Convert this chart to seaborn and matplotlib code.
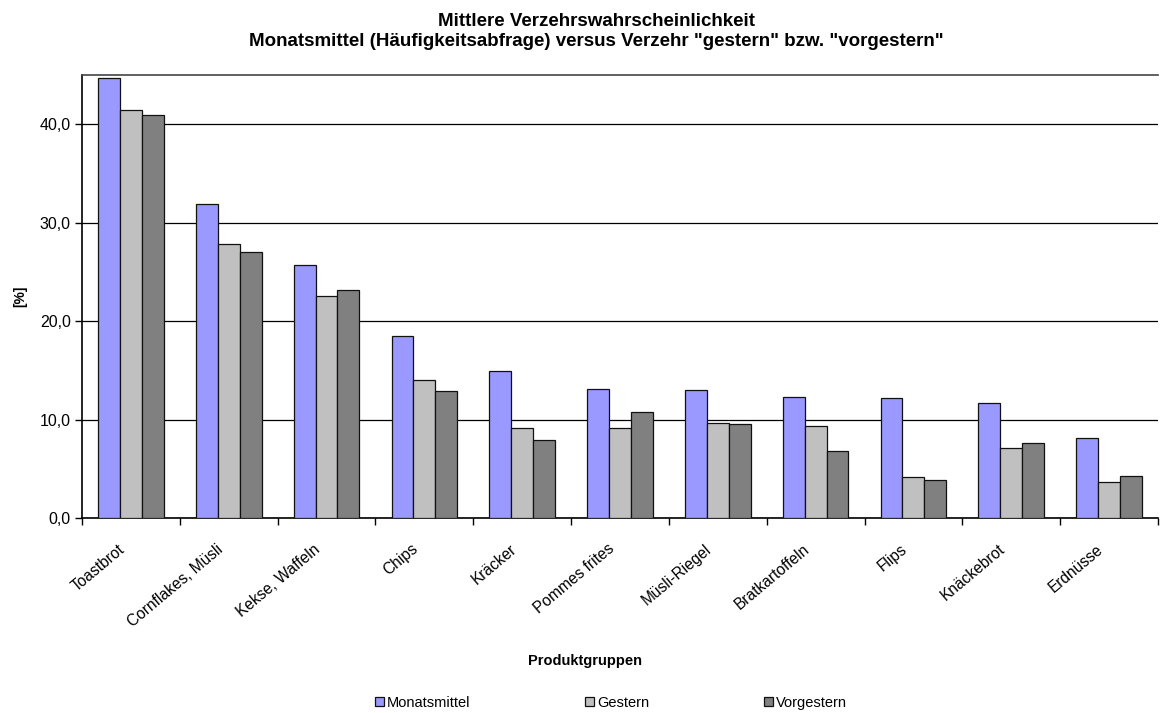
import pandas as pd
import matplotlib
matplotlib.use("Agg")
import matplotlib.pyplot as plt
import matplotlib.transforms as mtransforms
import seaborn as sns
from matplotlib.ticker import FuncFormatter

# Werte
produkte = ['Toastbrot', 'Cornflakes, Müsli', 'Kekse, Waffeln', 'Chips', 'Kräcker',
            'Pommes frites', 'Müsli-Riegel', 'Bratkartoffeln', 'Flips', 'Knäckebrot', 'Erdnüsse']
monatsmittel = [44.7, 31.9, 25.7, 18.5, 14.9, 13.1, 13.0, 12.3, 12.2, 11.7, 8.1]
gestern = [41.4, 27.8, 22.6, 14.0, 9.1, 9.1, 9.6, 9.3, 4.2, 7.1, 3.7]
vorgestern = [40.9, 27.0, 23.2, 12.9, 7.9, 10.8, 9.5, 6.8, 3.9, 7.6, 4.3]
serien = ['Monatsmittel', 'Gestern', 'Vorgestern']
farben = ['#9999FF', '#C0C0C0', '#808080']

df = pd.DataFrame({
    'Produkt': produkte * 3,
    'Serie': [s for s in serien for _ in produkte],
    'Wert': monatsmittel + gestern + vorgestern,
})

sns.set_theme(style="white")
plt.rcParams['font.family'] = ['Liberation Sans', 'DejaVu Sans']
plt.rcParams['text.color'] = 'black'
plt.rcParams['axes.labelcolor'] = 'black'
plt.rcParams['xtick.color'] = 'black'
plt.rcParams['ytick.color'] = 'black'

fig = plt.figure(figsize=(11.72, 7.13), dpi=100)
ax = fig.add_axes([0.07, 0.2735, 0.918, 0.6213])

sns.barplot(data=df, x='Produkt', y='Wert', hue='Serie', order=produkte, hue_order=serien,
            palette=farben, width=0.67, edgecolor='#111111', linewidth=0.9, saturation=1,
            errorbar=None, ax=ax, zorder=3)

ax.set_ylim(0, 45)
ax.set_xlim(-0.5, len(produkte) - 0.5)
ax.set_yticks([0, 10, 20, 30, 40])
ax.yaxis.set_major_formatter(FuncFormatter(lambda v, p: f'{v:.1f}'.replace('.', ',')))
ax.yaxis.grid(True, color='black', linewidth=0.9, zorder=0)
ax.set_axisbelow(True)

# Striche zwischen den Kategorien, Beschriftung in der Mitte
ax.set_xticks([i - 0.5 for i in range(len(produkte) + 1)])
ax.set_xticklabels([])
ax.set_xticks(range(len(produkte)), minor=True)
ax.set_xticklabels(produkte, minor=True, rotation=40, ha='right', va='center',
                   rotation_mode='anchor', fontsize=11.2)
ax.tick_params(axis='x', which='minor', length=0, pad=21)
ax.tick_params(axis='x', which='major', length=5, width=1, direction='out', bottom=True)
ax.tick_params(axis='y', length=5, width=1, direction='out', left=True, labelsize=11.5, pad=3)

# Beschriftungen etwas nach links schieben
shift = mtransforms.ScaledTranslation(-8 / 100, 0, fig.dpi_scale_trans)
for lab in ax.get_xticklabels(minor=True):
    lab.set_transform(lab.get_transform() + shift)

for s in ['left', 'bottom']:
    ax.spines[s].set_color('black')
    ax.spines[s].set_linewidth(1.2)
ax.spines['top'].set_color('#444444')
ax.spines['top'].set_linewidth(1.2)
ax.spines['right'].set_visible(False)

ax.set_xlabel('')
ax.set_ylabel('[%]', fontsize=10, fontweight='bold', labelpad=9)

fig.text(596 / 1172, 1 - 31.5 / 713,
         'Mittlere Verzehrswahrscheinlichkeit\n'
         'Monatsmittel (Häufigkeitsabfrage) versus Verzehr "gestern" bzw. "vorgestern"',
         fontsize=13.5, fontweight='bold', ha='center', va='center', linespacing=1.2)
fig.text(585 / 1172, 1 - 661 / 713, 'Produktgruppen', fontsize=10.5, fontweight='bold',
         ha='center', va='center')

ax.legend(loc='center', bbox_to_anchor=(611 / 1172, 1 - 703 / 713), bbox_transform=fig.transFigure,
          ncol=3, frameon=False, fontsize=10.5, handlelength=0.6, handleheight=0.6,
          handletextpad=0.2, columnspacing=7.9, borderpad=0)

fig.savefig('out.png', dpi=100)
